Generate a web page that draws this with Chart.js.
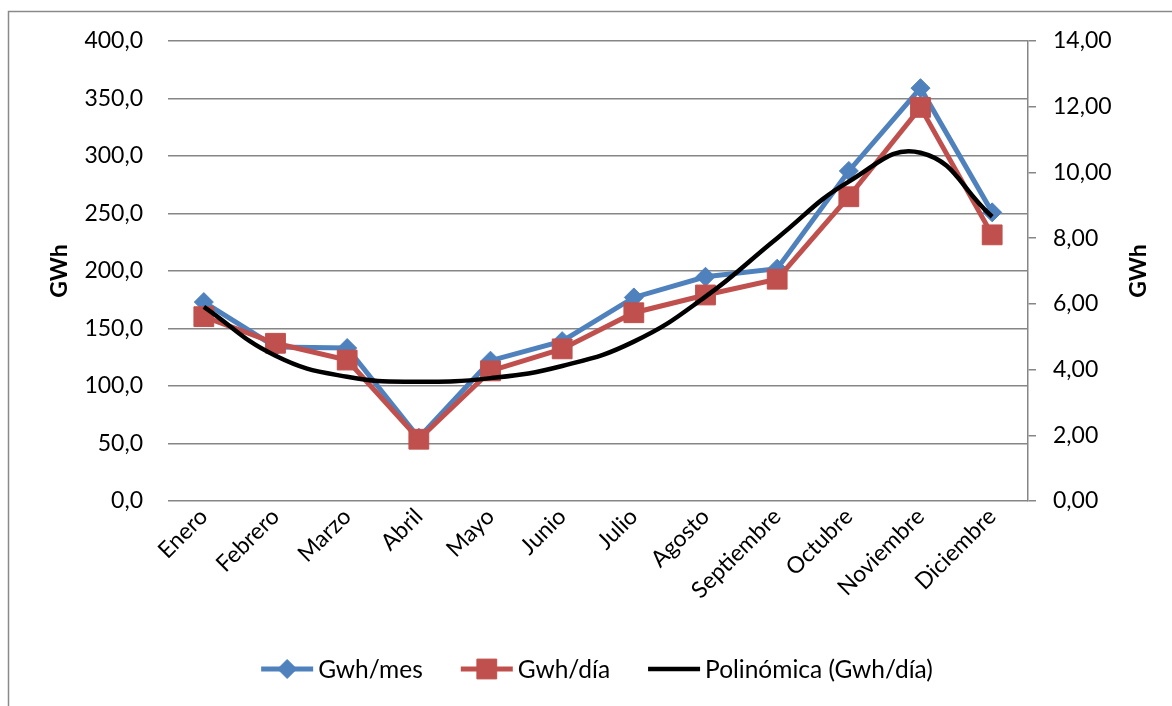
<!DOCTYPE html>
<html>
<head>
<meta charset="utf-8">
<script src="https://cdn.jsdelivr.net/npm/chart.js@4.4.1/dist/chart.umd.min.js"></script>
<style>
  html, body { margin: 0; padding: 0; background: #fff; }
  #wrap { width: 1172px; height: 706px; position: relative; }
</style>
</head>
<body>
<div id="wrap"><canvas id="c" width="1172" height="706"></canvas></div>
<script>
// Monthly energy: GWh per month (left axis) and GWh per day (right axis)
const meses = ['Enero', 'Febrero', 'Marzo', 'Abril', 'Mayo', 'Junio', 'Julio', 'Agosto', 'Septiembre', 'Octubre', 'Noviembre', 'Diciembre'];
const gwhMes = [173, 134, 133, 55, 122, 139, 177, 195, 202, 287, 359, 251];
const gwhDia = [5.61, 4.80, 4.29, 1.88, 3.96, 4.63, 5.73, 6.27, 6.75, 9.26, 11.98, 8.10];
// Polynomial trend of GWh/día, sampled at each month
const tendencia = [5.91, 4.42, 3.78, 3.63, 3.74, 4.11, 4.85, 6.22, 8.00, 9.72, 10.60, 8.65];

const leftTicks = { min: 0, max: 400, step: 50 };
const rightTicks = { min: 0, max: 14, step: 2 };

const FONT = 'Lato, "Open Sans", sans-serif';
const AZUL = '#4F81BD';
const ROJO = '#C0504D';
const GRIS = '#868686';

const comma = (v, d) => Number(v).toFixed(d).replace('.', ',');

// Frame, rotated axis titles and the legend row
const extras = {
  id: 'extras',
  afterDraw(chart) {
    const ctx = chart.ctx;
    const area = chart.chartArea;
    ctx.save();
    // outer frame (left and top edges)
    ctx.strokeStyle = '#8a8a8a';
    ctx.lineWidth = 1.5;
    ctx.beginPath();
    ctx.moveTo(8.5, 706);
    ctx.lineTo(8.5, 11.5);
    ctx.lineTo(1172, 11.5);
    ctx.stroke();

    // axis titles
    ctx.fillStyle = '#000';
    ctx.font = 'bold 23px ' + FONT;
    ctx.textAlign = 'center';
    ctx.textBaseline = 'middle';
    const midY = (area.top + area.bottom) / 2;
    [60, 1139].forEach(x => {
      ctx.save();
      ctx.translate(x, midY);
      ctx.rotate(-Math.PI / 2);
      ctx.fillText('GWh', 0, 0);
      ctx.restore();
    });

    // legend
    ctx.font = '24.5px ' + FONT;
    ctx.textAlign = 'left';
    const lineLen = 52, gapText = 5, gapItem = 38, y = 669;
    const items = chart.data.datasets.map((ds, i) => ({
      ds, w: lineLen + gapText + ctx.measureText(ds.label).width
    }));
    const total = items.reduce((s, it) => s + it.w, 0) + gapItem * (items.length - 1);
    let x = 597 - total / 2;
    items.forEach(it => {
      const ds = it.ds;
      ctx.strokeStyle = ds.borderColor;
      ctx.lineWidth = ds.borderWidth;
      ctx.beginPath();
      ctx.moveTo(x, y);
      ctx.lineTo(x + lineLen, y);
      ctx.stroke();
      if (ds.pointRadius > 0) {
        ctx.fillStyle = ds.pointBackgroundColor;
        ctx.strokeStyle = ds.pointBorderColor;
        ctx.lineWidth = 1;
        Chart.helpers.drawPoint(ctx, { pointStyle: ds.pointStyle, radius: ds.pointRadius, borderWidth: 1, rotation: 0 }, x + lineLen / 2, y);
      }
      ctx.fillStyle = '#000';
      ctx.fillText(ds.label, x + lineLen + gapText, y + 1);
      x += it.w + gapItem;
    });
    ctx.restore();
  }
};

new Chart(document.getElementById('c'), {
  type: 'line',
  data: {
    labels: meses,
    datasets: [
      {
        label: 'Gwh/mes',
        data: gwhMes,
        yAxisID: 'y',
        borderColor: AZUL,
        backgroundColor: AZUL,
        borderWidth: 5,
        pointStyle: 'rectRot',
        pointRadius: 9.5,
        pointBackgroundColor: AZUL,
        pointBorderColor: AZUL,
        pointBorderWidth: 1,
        tension: 0,
        order: 2
      },
      {
        label: 'Gwh/día',
        data: gwhDia,
        yAxisID: 'y1',
        borderColor: ROJO,
        backgroundColor: ROJO,
        borderWidth: 5,
        pointStyle: 'rect',
        pointRadius: 14,
        pointBackgroundColor: ROJO,
        pointBorderColor: ROJO,
        pointBorderWidth: 1,
        tension: 0,
        order: 1
      },
      {
        label: 'Polinómica (Gwh/día)',
        data: tendencia,
        yAxisID: 'y1',
        borderColor: '#000',
        backgroundColor: '#000',
        borderWidth: 4.5,
        pointRadius: 0,
        tension: 0.45,
        order: 0
      }
    ]
  },
  options: {
    responsive: false,
    animation: false,
    events: [],
    layout: { padding: { top: 41, left: 0, right: 0, bottom: 0 } },
    plugins: {
      legend: { display: false },
      tooltip: { enabled: false },
      title: { display: false }
    },
    scales: {
      x: {
        type: 'category',
        offset: true,
        grid: { display: false },
        border: { display: false },
        ticks: {
          color: '#000',
          font: { family: FONT, size: 23 },
          minRotation: 45,
          maxRotation: 45,
          autoSkip: false,
          padding: -6
        },
        afterFit(s) { s.height = 205; }
      },
      y: {
        position: 'left',
        min: leftTicks.min,
        max: leftTicks.max,
        grid: { color: GRIS, lineWidth: 1.5, drawTicks: false },
        border: { display: false },
        ticks: {
          stepSize: leftTicks.step,
          color: '#000',
          font: { family: FONT, size: 23 },
          padding: 25,
          callback: v => comma(v, 1)
        },
        afterFit(s) { s.width = 168; }
      },
      y1: {
        position: 'right',
        min: rightTicks.min,
        max: rightTicks.max,
        grid: { drawOnChartArea: false, drawTicks: true, tickLength: 8, color: GRIS, lineWidth: 1.5 },
        border: { display: true, color: GRIS, width: 1.5 },
        ticks: {
          stepSize: rightTicks.step,
          color: '#000',
          font: { family: FONT, size: 23 },
          padding: 17,
          callback: v => comma(v, 2)
        },
        afterFit(s) { s.width = 144; }
      }
    }
  },
  plugins: [extras]
});
</script>
</body>
</html>
